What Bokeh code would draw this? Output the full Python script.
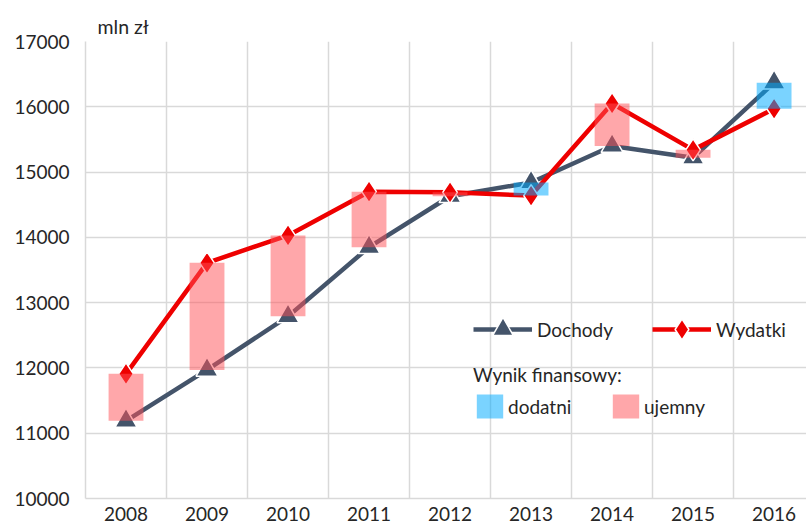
import numpy as np
from bokeh.plotting import figure
from bokeh.models import (Range1d, FixedTicker, Title, Legend, LegendItem,
                          ColumnDataSource)
from bokeh.embed import file_html
from bokeh.resources import INLINE

# ---- data ----
years = ["2008", "2009", "2010", "2011", "2012", "2013", "2014", "2015", "2016"]
dochody = [11190, 11970, 12790, 13850, 14630, 14840, 15400, 15220, 16370]
wydatki = [11910, 13610, 14030, 14700, 14690, 14640, 16050, 15340, 15970]
y_ticks = [10000, 11000, 12000, 13000, 14000, 15000, 16000, 17000]
unit_label = "mln zł"

FONT = "Lato"
TXT = "#262626"
GRID = "#D9D9D9"
SLATE = "#44546A"
RED = "#EE0000"
BLUE = "#00AAFF"
PINK = "#FF5055"

xs = np.arange(len(years)) + 0.5
d = np.array(dochody, dtype=float)
w = np.array(wydatki, dtype=float)
pos = d >= w

p = figure(width=806, height=528, output_backend="svg", toolbar_location=None,
           x_range=Range1d(0, 8.9), y_range=Range1d(10000, 17000),
           min_border_left=85, min_border_right=0, min_border_top=41,
           min_border_bottom=30)
p.outline_line_color = None
p.background_fill_color = "white"

p.add_layout(Title(text=unit_label, align="left", offset=12, standoff=7,
                   text_font=FONT, text_font_size="19.5px",
                   text_font_style="normal", text_color=TXT), "above")

# axes
p.yaxis.ticker = FixedTicker(ticks=y_ticks)
p.xaxis.ticker = FixedTicker(ticks=list(xs))
p.xaxis.major_label_overrides = {float(x): y for x, y in zip(xs, years)}
for ax in (p.xaxis[0], p.yaxis[0]):
    ax.axis_line_color = GRID
    ax.axis_line_width = 1.5
    ax.major_tick_line_color = None
    ax.minor_tick_line_color = None
    ax.major_tick_out = 0
    ax.major_tick_in = 0
    ax.major_label_text_font = FONT
    ax.major_label_text_font_size = "19px"
    ax.major_label_text_color = TXT
p.yaxis.major_label_standoff = 16
p.xaxis.major_label_standoff = 8

p.ygrid.ticker = FixedTicker(ticks=y_ticks)
p.xgrid.ticker = FixedTicker(ticks=list(range(0, len(years) + 1)))
for g in (p.xgrid[0], p.ygrid[0]):
    g.grid_line_color = GRID
    g.grid_line_width = 1.5

# lines + markers
l_d = p.line(xs, d, line_color=SLATE, line_width=4.5)
s_d = p.scatter(xs, d, marker="triangle", size=22, fill_color=SLATE,
                line_color="white", line_width=1.5)
l_w = p.line(xs, w, line_color=RED, line_width=4.5)
s_w = p.scatter(xs, w, marker="diamond", size=22, fill_color=RED,
                line_color="white", line_width=1.5)

# result boxes (on top, translucent)
src_pos = ColumnDataSource(dict(x=xs[pos], top=np.maximum(d, w)[pos],
                                bottom=np.minimum(d, w)[pos]))
src_neg = ColumnDataSource(dict(x=xs[~pos], top=np.maximum(d, w)[~pos],
                                bottom=np.minimum(d, w)[~pos]))
b_pos = p.vbar(x="x", top="top", bottom="bottom", width=0.43, source=src_pos,
               fill_color=BLUE, fill_alpha=0.52, line_color=None)
b_neg = p.vbar(x="x", top="top", bottom="bottom", width=0.43, source=src_neg,
               fill_color=PINK, fill_alpha=0.5, line_color=None)

# legends
leg1 = Legend(items=[LegendItem(label="Dochody", renderers=[l_d, s_d]),
                     LegendItem(label="Wydatki", renderers=[l_w, s_w])],
              orientation="horizontal", location=(388, 143),
              glyph_width=59, glyph_height=52, label_standoff=5,
              label_width=115, spacing=0, padding=0, margin=0,
              border_line_color=None, background_fill_alpha=0,
              label_text_font=FONT, label_text_font_size="19px",
              label_text_color=TXT)
leg2 = Legend(items=[LegendItem(label="dodatni", renderers=[b_pos]),
                     LegendItem(label="ujemny", renderers=[b_neg])],
              orientation="horizontal", location=(388, 77),
              title="Wynik finansowy:", title_text_font=FONT,
              title_text_font_size="19px", title_text_font_style="normal",
              title_text_color=TXT, title_standoff=5,
              glyph_width=33, glyph_height=30, label_standoff=2,
              label_width=101, spacing=0, padding=0, margin=0,
              border_line_color=None, background_fill_alpha=0,
              label_text_font=FONT, label_text_font_size="19px",
              label_text_color=TXT)
p.add_layout(leg1, "center")
p.add_layout(leg2, "center")

open("out.html", "w").write(file_html(p, INLINE))
